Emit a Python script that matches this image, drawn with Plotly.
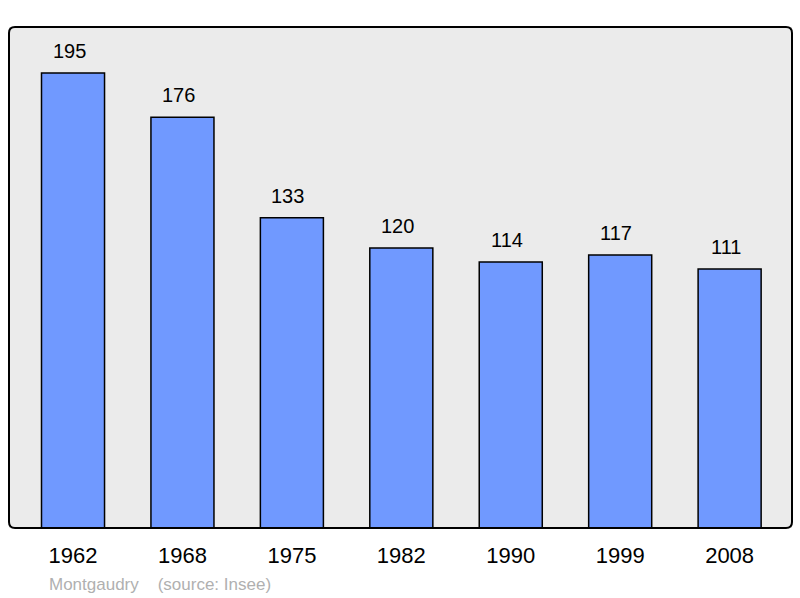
import plotly.graph_objects as go

years = ["1962", "1968", "1975", "1982", "1990", "1999", "2008"]
population = [195, 176, 133, 120, 114, 117, 111]
caption = "Montgaudry    (source: Insee)"

xs = list(range(len(years)))
FONT = "Liberation Sans, Arial, sans-serif"

fig = go.Figure()
fig.add_trace(go.Bar(
    x=xs, y=population, width=0.576,
    marker=dict(color="#7099ff", line=dict(color="#000000", width=1.5)),
    hoverinfo="skip",
))

for x, v in zip(xs, population):
    fig.add_annotation(x=x, y=v, text=str(v), showarrow=False, yanchor="bottom",
                       yshift=9, xshift=-4, font=dict(size=20, color="#000000", family=FONT))

fig.add_annotation(xref="paper", yref="paper", x=0.048, y=-0.112, xanchor="left",
                   yanchor="middle", text=caption.replace(" ", "&nbsp;"), showarrow=False,
                   font=dict(size=17, color="#b0b0b0", family=FONT))

# rounded frame
r_x = 6 / 783
r_y = 6 / 501
path = (f"M {r_x},0 L {1-r_x},0 Q 1,0 1,{r_y} L 1,{1-r_y} Q 1,1 {1-r_x},1 "
        f"L {r_x},1 Q 0,1 0,{1-r_y} L 0,{r_y} Q 0,0 {r_x},0 Z")
fig.add_shape(type="path", xref="paper", yref="paper", path=path,
              line=dict(color="#000000", width=2), layer="above")

fig.update_layout(
    width=800, height=598,
    margin=dict(l=9, r=8, t=27, b=70),
    paper_bgcolor="#ffffff", plot_bgcolor="#ebebeb",
    showlegend=False,
    font=dict(family=FONT, color="#000000"),
    xaxis=dict(range=[-0.585, 6.57], tickvals=xs, ticktext=years, showgrid=False,
               zeroline=False, ticks="", tickfont=dict(size=22, color="#000000"),
               ticklabelstandoff=12, fixedrange=True),
    yaxis=dict(range=[0, 214.7], showgrid=False, zeroline=False, showticklabels=False,
               ticks="", fixedrange=True),
)

fig.write_html("out.html", config={"displayModeBar": False},
               post_script="document.body.style.margin='0';document.body.style.overflow='hidden';")
